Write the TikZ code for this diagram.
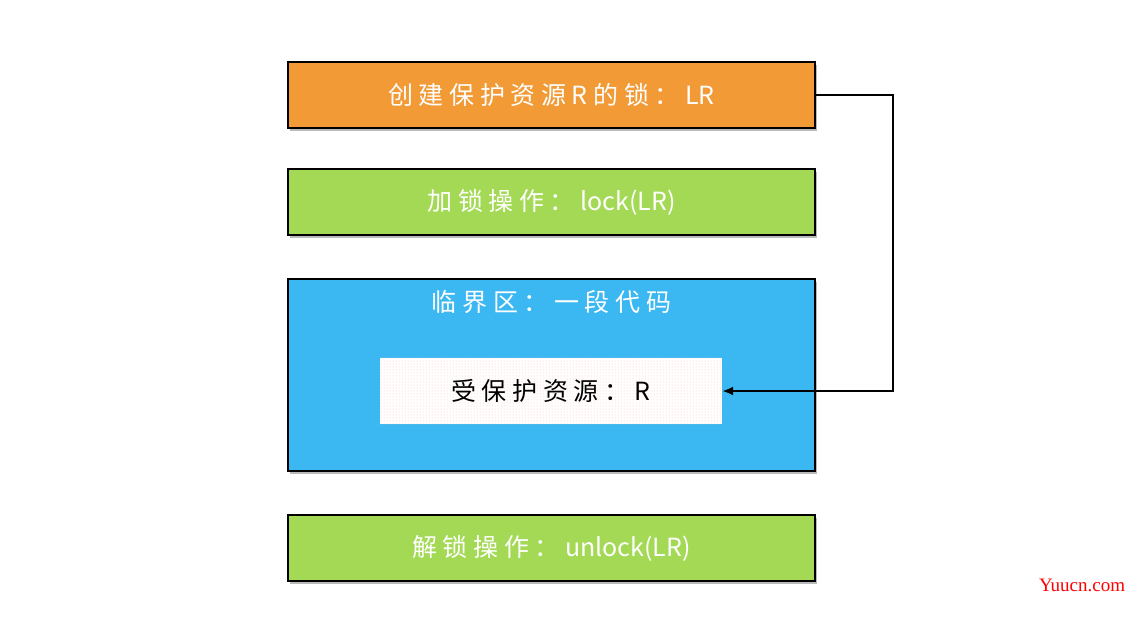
\documentclass[tikz,border=0pt]{standalone}
\usepackage{fontspec}
\usepackage{tikz}
\usetikzlibrary{arrows.meta,shadows,patterns}
\newfontfamily\cjkfont{Noto Sans CJK SC}
\newfontfamily\markfont{Liberation Serif}
\definecolor{lockorange}{HTML}{F19A36}
\definecolor{opgreen}{HTML}{A3D955}
\definecolor{zoneblue}{HTML}{3BB8F2}

\begin{document}
\begin{tikzpicture}[x=1pt,y=-1pt,
    box/.style={draw=black, line width=1.5pt, minimum width=527pt,
      drop shadow={shadow xshift=2pt, shadow yshift=-3pt, opacity=.45, fill=black!60}},
    boxtext/.style={font=\cjkfont\fontsize{25}{28}\selectfont, text=white}]
  \useasboundingbox (0,0) rectangle (1142,640);
  % lock and its operations
  \node[box, fill=lockorange, minimum height=66pt, boxtext] (mk) at (551.5,95) {创 建 保 护 资 源 R 的 锁 ： LR};
  \node[box, fill=opgreen, minimum height=66pt, boxtext] (lock) at (551.5,202) {加 锁 操 作 ： lock(LR)};
  \node[box, fill=zoneblue, minimum height=192pt] (crit) at (551.5,375) {};
  \node[boxtext, anchor=center] (crittxt) at (551.5,302) {临 界 区 ： 一 段 代 码};
  \node[box, fill=opgreen, minimum height=66pt, boxtext] (unlock) at (551.5,548) {解 锁 操 作 ： unlock(LR)};
  % protected resource
  \node[fill=white, minimum width=342pt, minimum height=66pt, inner sep=0pt] (res) at (551,391) {};
  \fill[pattern=dots, pattern color=red!25] (res.south west) rectangle (res.north east);
  \node[font=\cjkfont\fontsize{25}{28}\selectfont] (restxt) at (res.center) {受 保 护 资 源 ： R};
  % connector
  \draw[line width=2pt, -{Latex[length=11pt,width=9pt]}] (mk.east) -- ++(77,0) |- (res.east);
  \node[font=\markfont\fontsize{19}{22}\selectfont, text=red] (mark) at (1082,585) {Yuucn.com};
\end{tikzpicture}
\end{document}
